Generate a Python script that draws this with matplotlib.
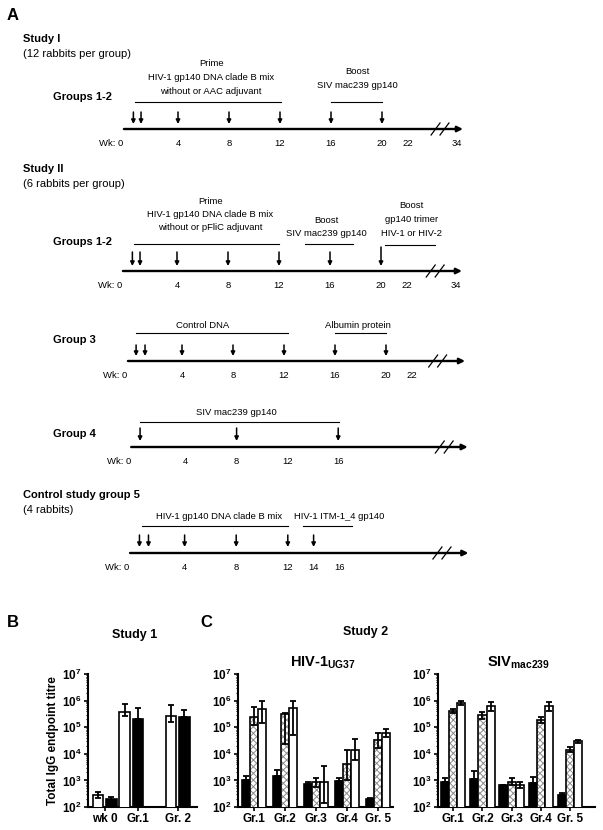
import numpy as np
import matplotlib
matplotlib.use("Agg")
import matplotlib.pyplot as plt
from matplotlib.ticker import LogLocator, FuncFormatter, NullFormatter, FixedLocator

plt.rcParams['font.family'] = ['Liberation Sans', 'DejaVu Sans']
plt.rcParams['mathtext.fontset'] = 'custom'
plt.rcParams['mathtext.rm'] = 'Liberation Sans'
plt.rcParams['mathtext.bf'] = 'Liberation Sans:bold'
plt.rcParams['mathtext.it'] = 'Liberation Sans:italic'
plt.rcParams['hatch.linewidth'] = 0.7

# ------------------------------------------------------------------ data
# Panel A: immunisation schedules (weeks)
s1_arrows = [0.5, 1.1, 4, 8, 12, 16, 20]
s1_ticks = [4, 8, 12, 16, 20, 22]
s1_brackets = [(0.6, 12.1), (16, 20)]
s1_texts = [(6.6, ["Prime", "HIV-1 gp140 DNA clade B mix", "without or AAC adjuvant"]),
            (18.1, ["Boost", "SIV mac239 gp140"])]

s2_arrows = [0.5, 1.1, 4, 8, 12, 16, 20]
s2_ticks = [4, 8, 12, 16, 20, 22]
s2_brackets = [(0.6, 12.0), (14, 17.8), (20.3, 24.2)]
s2_texts = [(6.6, ["Prime", "HIV-1 gp140 DNA clade B mix", "without or pFliC adjuvant"]),
            (15.7, ["Boost", "SIV mac239 gp140"]),
            (22.4, ["Boost", "gp140 trimer", "HIV-1 or HIV-2"])]

g3_arrows = [0.4, 1.1, 4, 8, 12, 16, 20]
g3_ticks = [4, 8, 12, 16, 20, 22]
g3_brackets = [(0.4, 12.3), (16, 20)]
g3_texts = [(5.6, ["Control DNA"]), (17.8, ["Albumin protein"])]

g4_arrows = [0.4, 8, 16]
g4_ticks = [4, 8, 12, 16]
g4_brackets = [(0.4, 16.1)]
g4_texts = [(8.0, ["SIV mac239 gp140"])]

g5_arrows = [0.5, 1.2, 4, 8, 12, 14]
g5_ticks = [4, 8, 12, 14, 16]
g5_brackets = [(0.7, 12.0), (13.2, 17.0)]
g5_texts = [(6.7, ["HIV-1 gp140 DNA clade B mix"]), (16.0, ["HIV-1 ITM-1_4 gp140"])]

# Panel B: Study 1 titres (open = first bar, filled = second bar)
b_groups = ["wk 0", "Gr.1", "Gr. 2"]
b_open = [280, 3.6e5, 2.6e5]
b_open_lo = [220, 2.6e5, 1.6e5]
b_open_hi = [360, 7.5e5, 7.0e5]
b_fill = [200, 2.0e5, 2.4e5]
b_fill_lo = [190, 2.0e5, 2.4e5]
b_fill_hi = [235, 5.5e5, 4.6e5]

# Panel C: Study 2 titres (black, hatched, white per group)
c_groups = ["Gr.1", "Gr.2", "Gr.3", "Gr.4", "Gr. 5"]
hiv_black = [1000, 1450, 730, 970, 200]
hiv_black_hi = [1450, 2500, 900, 1200, 225]
hiv_hatch = [2.5e5, 3.1e5, 900, 4.0e3, 3.3e4]
hiv_hatch_lo = [1.2e5, 2.4e4, 550, 1.0e3, 1.6e4]
hiv_hatch_hi = [5.6e5, 3.4e5, 1200, 1.45e4, 5.8e4]
hiv_white = [5.0e5, 5.5e5, 900, 1.4e4, 6.2e4]
hiv_white_lo = [1.4e5, 5.0e4, 140, 5.8e3, 4.4e4]
hiv_white_hi = [1.0e6, 9.5e5, 3500, 3.5e4, 8.4e4]

siv_black = [850, 1100, 650, 780, 280]
siv_black_hi = [1200, 2300, 700, 1400, 340]
siv_hatch = [4.1e5, 2.8e5, 900, 1.8e5, 1.45e4]
siv_hatch_lo = [3.3e5, 2.1e5, 650, 1.4e5, 1.2e4]
siv_hatch_hi = [5.0e5, 3.8e5, 1200, 2.4e5, 1.8e4]
siv_white = [8.4e5, 6.2e5, 670, 6.2e5, 3.0e4]
siv_white_lo = [7.0e5, 4.2e5, 500, 4.2e5, 2.6e4]
siv_white_hi = [9.8e5, 8.9e5, 870, 8.9e5, 3.4e4]

# ------------------------------------------------------------------ figure
W, H = 603, 830
fig = plt.figure(figsize=(W / 100, H / 100), dpi=100)

# pixel overlay for headings
ov = fig.add_axes([0, 0, 1, 1])
ov.set_xlim(0, W)
ov.set_ylim(H, 0)
ov.axis('off')
ov.patch.set_alpha(0)

HDR = 8.0
ANN = 6.8


def otext(x, y, s, **kw):
    kw.setdefault('va', 'center')
    kw.setdefault('ha', 'left')
    ov.text(x, y, s, **kw)


otext(7, 15, "A", fontsize=12, fontweight='bold')
otext(23, 39, "Study I", fontsize=HDR, fontweight='bold')
otext(23, 54, "(12 rabbits per group)", fontsize=HDR)
otext(53, 97, "Groups 1-2", fontsize=HDR, fontweight='bold')
otext(23, 169, "Study II", fontsize=HDR, fontweight='bold')
otext(23, 184, "(6 rabbits per group)", fontsize=HDR)
otext(53, 242, "Groups 1-2", fontsize=HDR, fontweight='bold')
otext(53, 340, "Group 3", fontsize=HDR, fontweight='bold')
otext(53, 434, "Group 4", fontsize=HDR, fontweight='bold')
otext(23, 495, "Control study group 5", fontsize=HDR, fontweight='bold')
otext(23, 510, "(4 rabbits)", fontsize=HDR)
otext(7, 622, "B", fontsize=12, fontweight='bold')
otext(200, 622, "C", fontsize=12, fontweight='bold')
otext(135, 635, "Study 1", fontsize=9, fontweight='bold', ha='center')
otext(366, 632, "Study 2", fontsize=9, fontweight='bold', ha='center')
otext(323, 663, r"HIV-1$_{\mathbf{UG37}}$", fontsize=10.5, fontweight='bold', ha='center')
otext(518, 663, r"SIV$_{\mathbf{mac239}}$", fontsize=10.5, fontweight='bold', ha='center')


def timeline(x0, pxw, axis_y, ax_start, ax_end, brk, arrows, arr_top, arr_bot,
             ticks, wk34, brackets, br_y, texts, text_ys, tall=None):
    ax = fig.add_axes([0, 0, 1, 1])
    ax.set_xlim(-x0 / pxw, (W - x0) / pxw)
    ax.set_ylim(H, 0)
    ax.axis('off')
    ax.patch.set_alpha(0)
    # main axis
    ax.annotate("", xy=(ax_end, axis_y), xytext=(ax_start, axis_y),
                arrowprops=dict(arrowstyle='-|>', color='black', lw=1.7,
                                mutation_scale=8, shrinkA=0, shrinkB=0))
    # break marks
    for d in (0.0, 0.7):
        ax.plot([brk - 0.35 + d, brk + 0.35 + d], [axis_y + 6, axis_y - 6],
                color='black', lw=0.9)
    # immunisation arrows
    for i, w in enumerate(arrows):
        top = arr_top
        if tall is not None and w == tall[0]:
            top = tall[1]
        ax.annotate("", xy=(w, arr_bot), xytext=(w, top),
                    arrowprops=dict(arrowstyle='-|>', color='black', lw=1.1,
                                    mutation_scale=6, shrinkA=0, shrinkB=0))
    # week labels
    ty = axis_y + 14
    ax.text(-0.3, ty, "Wk: 0", fontsize=ANN, ha='right', va='center')
    for t in ticks:
        ax.text(t, ty, str(t), fontsize=ANN, ha='center', va='center')
    if wk34 is not None:
        ax.text(wk34, ty, "34", fontsize=ANN, ha='center', va='center')
    # brackets
    for (a, b), y in zip(brackets, br_y):
        ax.plot([a, b], [y, y], color='black', lw=0.8)
    for (cx, lines), ys in zip(texts, text_ys):
        for s, y in zip(lines, ys):
            ax.text(cx, y, s, fontsize=ANN, ha='center', va='center')
    return ax


timeline(127, 12.75, 129, -0.24, 26.35, 24.2, s1_arrows, 112, 124,
         s1_ticks, 25.9, s1_brackets, [102, 102], s1_texts,
         [[63, 77, 91], [71, 85]])
timeline(126, 12.75, 271, -0.24, 26.35, 23.9, s2_arrows, 252, 266,
         s2_ticks, 25.9, s2_brackets, [244, 244, 245], s2_texts,
         [[201, 214, 227], [220, 233], [205, 219, 233]], tall=(20, 247))
timeline(131, 12.75, 361, -0.24, 26.2, 23.7, g3_arrows, 345, 356,
         g3_ticks, None, g3_brackets, [333, 333], g3_texts, [[325], [325]])
timeline(135, 12.7, 447, -0.3, 26.2, 24.0, g4_arrows, 428, 441,
         g4_ticks, None, g4_brackets, [422], g4_texts, [[412]])
timeline(133, 12.9, 553, -0.23, 26.0, 23.6, g5_arrows, 535, 547,
         g5_ticks, None, g5_brackets, [526, 526], g5_texts, [[516], [516]])


# ------------------------------------------------------------------ bar panels
def fig_rect(l, r, t, b):
    return [l / W, (H - b) / H, (r - l) / W, (b - t) / H]


def style_log(ax):
    ax.set_yscale('log')
    ax.set_ylim(1e2, 1e7)
    ax.yaxis.set_major_locator(LogLocator(base=10, numticks=10))
    ax.yaxis.set_minor_locator(LogLocator(base=10, subs=np.arange(2, 10), numticks=10))
    ax.yaxis.set_major_formatter(FuncFormatter(
        lambda v, p: r'$\mathbf{10^{%d}}$' % int(round(np.log10(v)))))
    ax.yaxis.set_minor_formatter(NullFormatter())
    for s in ('top', 'right'):
        ax.spines[s].set_visible(False)
    for s in ('left', 'bottom'):
        ax.spines[s].set_linewidth(1.5)
    ax.tick_params(axis='y', which='major', length=3, width=1.2, pad=1.5, labelsize=8.5)
    ax.tick_params(axis='y', which='minor', length=1.8, width=0.8)
    ax.tick_params(axis='x', length=3, width=1.2, pad=1.5, labelsize=8.5)
    for lab in ax.get_xticklabels():
        lab.set_fontweight('bold')


def err(ax, x, v, lo, hi):
    v = np.asarray(v, float)
    ax.errorbar(x, v, yerr=[v - np.asarray(lo, float), np.asarray(hi, float) - v],
                fmt='none', ecolor='black', elinewidth=1.3, capsize=2.3, capthick=1.3,
                zorder=4)


# Panel B
axB = fig.add_axes(fig_rect(88, 197, 674, 807))
pB_open = np.array([0.0, 2.0, 5.5])
pB_fill = pB_open + 1.0
bwB = 0.79
style_log(axB)
axB.bar(pB_open, b_open, bwB, color='white', edgecolor='black', lw=1.2, zorder=3)
axB.bar(pB_fill, b_fill, bwB, color='black', edgecolor='black', lw=1.2, zorder=3)
err(axB, pB_open, b_open, b_open_lo, b_open_hi)
err(axB, pB_fill, b_fill, b_fill_lo, b_fill_hi)
axB.set_xlim(-0.75, 7.45)
axB.xaxis.set_major_locator(FixedLocator([0.5, 3.0, 6.0]))
axB.set_xticklabels(b_groups, fontweight='bold', fontsize=8.5)
axB.set_ylabel("Total IgG endpoint titre", fontsize=8.5, fontweight='bold', labelpad=2)
for lab in axB.get_yticklabels():
    lab.set_fontweight('bold')


def panel_c(rect, black, black_hi, hatch, hatch_lo, hatch_hi, white, white_lo, white_hi,
            bw, xlim):
    ax = fig.add_axes(rect)
    style_log(ax)
    x = np.arange(len(c_groups), dtype=float)
    ax.bar(x - bw, black, bw, color='black', edgecolor='black', lw=1.2, zorder=3)
    ax.bar(x, hatch, bw, color='white', hatch='xxxxx', edgecolor='#8c8c8c', lw=0, zorder=3)
    ax.bar(x, hatch, bw, fill=False, edgecolor='black', lw=1.2, zorder=3)
    ax.bar(x + bw, white, bw, color='white', edgecolor='black', lw=1.2, zorder=3)
    err(ax, x - bw, black, black, black_hi)
    err(ax, x, hatch, hatch_lo, hatch_hi)
    err(ax, x + bw, white, white_lo, white_hi)
    ax.set_xlim(*xlim)
    ax.set_xticks(x)
    ax.set_xticklabels(c_groups, fontweight='bold', fontsize=8.5)
    return ax


panel_c(fig_rect(238, 393, 674, 807), hiv_black, hiv_black_hi, hiv_hatch, hiv_hatch_lo,
        hiv_hatch_hi, hiv_white, hiv_white_lo, hiv_white_hi, 0.26, (-0.52, 4.48))
panel_c(fig_rect(438, 595, 674, 807), siv_black, siv_black_hi, siv_hatch, siv_hatch_lo,
        siv_hatch_hi, siv_white, siv_white_lo, siv_white_hi, 0.28, (-0.52, 4.85))

fig.savefig("out.png", dpi=100)
